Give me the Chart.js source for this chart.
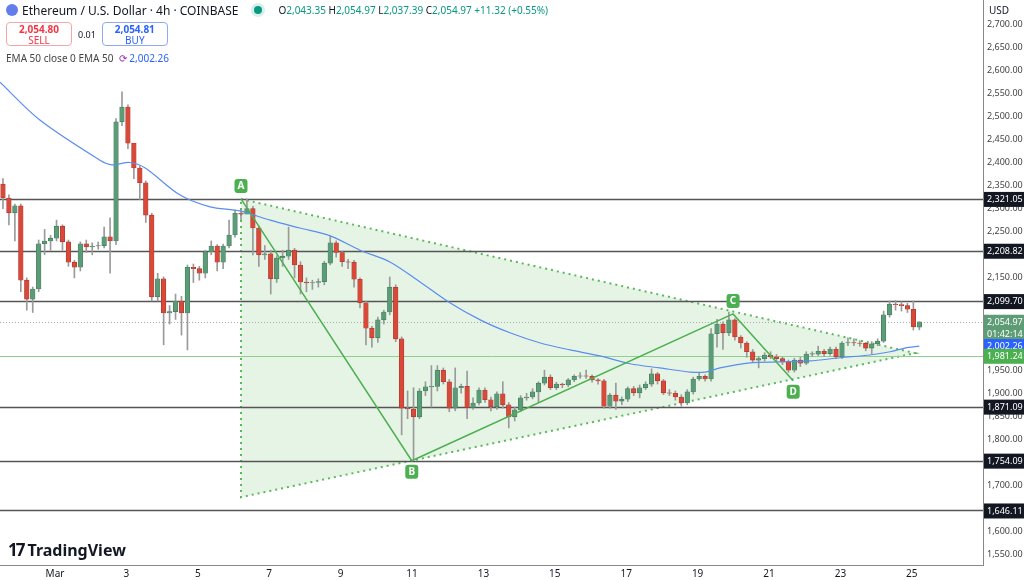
<!DOCTYPE html>
<html>
<head>
<meta charset="utf-8">
<script src="https://cdn.jsdelivr.net/npm/chart.js@4.4.1/dist/chart.umd.min.js"></script>
<style>
  body { margin: 0; background: #fff; font-family: "Noto Sans", Arial, sans-serif; }
  #wrap { position: relative; width: 1024px; height: 580px; }
  #head { position: absolute; left: 6px; top: 2px; font-size: 11px; color: #131722; z-index: 2; }
  .title { font-size: 12px; display: flex; align-items: center; gap: 4px; height: 16px; }
  .eth { width: 12px; height: 12px; border-radius: 50%; background: #627eea; display: inline-block; }
  .dot { width: 8px; height: 8px; border-radius: 50%; background: #089981; display: inline-block; margin: 0 12px 0 12px; box-shadow: 0 0 0 3px #d6efe9; }
  .ohlc { color: #089981; font-size: 10px; }
  .ohlc b { color: #131722; font-weight: normal; }
  .trade { display: flex; align-items: center; gap: 6px; margin-top: 4px; }
  .btn { width: 66px; height: 24px; border-radius: 4px; text-align: center; font-size: 10px; line-height: 11px; padding-top: 1px; box-sizing: border-box; background: #fff; }
  .sell { border: 1px solid #f7a5a8; color: #f23645; }
  .buy { border: 1px solid #90a8f5; color: #2962ff; }
  .ema { margin-top: 5px; font-size: 10px; color: #444; }
  .ema span { color: #2962ff; }
  #logo { position: absolute; left: 8px; top: 538px; font-weight: bold; font-size: 16px; color: #131722; display: flex; align-items: center; gap: 4px; }
  #usd { position: absolute; left: 989px; top: 3px; font-size: 10px; color: #131722; z-index: 2; }
  canvas { position: absolute; left: 0; top: 0; }
</style>
</head>
<body>
<div id="wrap">
  <canvas id="chart" width="1024" height="580"></canvas>
  <div id="head">
    <div class="title"><span class="eth"></span>Ethereum / U.S. Dollar · 4h · COINBASE<span class="dot"></span>
      <span class="ohlc"><b>O</b>2,043.35 <b>H</b>2,054.97 <b>L</b>2,037.39 <b>C</b>2,054.97 +11.32 (+0.55%)</span></div>
    <div class="trade">
      <div class="btn sell"><b>2,054.80</b><br>SELL</div>
      <span style="font-size:9px">0.01</span>
      <div class="btn buy"><b>2,054.81</b><br>BUY</div>
    </div>
    <div class="ema">EMA 50 close 0 EMA 50 &nbsp;<span style="color:#9c27b0">⟳</span> <span>2,002.26</span></div>
  </div>
  <div id="usd">USD</div>
  <div id="logo"><span style="font-size:17px;letter-spacing:-2px">17</span> TradingView</div>
</div>
<script>
// 4h candles, first one at index 0
const closes = [2323, 2291, 2306, 2145, 2104, 2126, 2224, 2230, 2236, 2262, 2228, 2184, 2173, 2224, 2217, 2219, 2220, 2239, 2230, 2488,
  2520, 2442, 2388, 2356, 2286, 2109, 2148, 2074, 2077, 2100, 2074, 2173, 2170, 2160, 2206, 2219, 2184, 2219, 2243, 2290,
  2288, 2300, 2258, 2200, 2202, 2148, 2193, 2197, 2210, 2178, 2141, 2139, 2140, 2142, 2182, 2226, 2205, 2185, 2184, 2147,
  2096, 2041, 2020, 2059, 2076, 2130, 2018, 1868, 1866, 1849, 1905, 1914, 1915, 1950, 1925, 1868, 1912, 1915, 1869, 1879,
  1907, 1886, 1871, 1899, 1875, 1849, 1864, 1890, 1892, 1903, 1922, 1935, 1912, 1920, 1918, 1929, 1937, 1938, 1937, 1929,
  1927, 1872, 1896, 1883, 1887, 1910, 1901, 1912, 1920, 1942, 1927, 1901, 1900, 1892, 1879, 1903, 1931, 1937, 1931, 2029,
  2050, 2031, 2059, 2022, 2009, 1990, 1972, 1975, 1983, 1979, 1975, 1968, 1950, 1972, 1965, 1985, 1985, 1991, 1986, 1996,
  1979, 2009, 2010, 2009, 2008, 1998, 2007, 2013, 2070, 2093, 2092, 2090, 2082, 2044, 2054.97];
const opens = [2353].concat(closes.slice(0, -1));
opens[opens.length - 1] = 2043.35;
const highs = [2365, 2330, 2310, 2310, 2150, 2130, 2232, 2255, 2242, 2275, 2265, 2232, 2188, 2228, 2232, 2226, 2228, 2260, 2280, 2495,
  2553, 2525, 2410, 2393, 2360, 2290, 2160, 2152, 2090, 2115, 2110, 2178, 2180, 2175, 2210, 2230, 2222, 2223, 2275, 2297,
  2297, 2321, 2305, 2262, 2220, 2210, 2198, 2210, 2260, 2214, 2185, 2150, 2145, 2148, 2186, 2240, 2230, 2208, 2190, 2188,
  2150, 2100, 2045, 2065, 2080, 2152, 2135, 2022, 1905, 1912, 1910, 1925, 1960, 1960, 1955, 1930, 1955, 1920, 1948, 1890,
  1912, 1912, 1892, 1903, 1925, 1880, 1870, 1895, 1900, 1910, 1925, 1950, 1940, 1924, 1922, 1932, 1940, 1945, 1950, 1940,
  1932, 1930, 1900, 1922, 1892, 1914, 1915, 1918, 1925, 1953, 1945, 1930, 1908, 1905, 1897, 1908, 1935, 1945, 1940, 2040,
  2060, 2055, 2076, 2062, 2025, 2012, 1995, 1980, 1988, 1990, 1984, 1978, 1972, 1976, 1978, 1990, 1990, 2002, 1995, 2000,
  2000, 2012, 2020, 2018, 2014, 2010, 2012, 2018, 2078, 2100, 2101, 2098, 2095, 2100, 2054.97];
const lows = [2300, 2265, 2230, 2120, 2080, 2075, 2120, 2200, 2210, 2230, 2210, 2175, 2150, 2165, 2205, 2200, 2212, 2215, 2160, 2222,
  2480, 2430, 2365, 2320, 2270, 2100, 2100, 2005, 2050, 2060, 2026, 1994, 2140, 2145, 2150, 2200, 2165, 2170, 2215, 2238,
  2275, 2290, 2200, 2175, 2190, 2115, 2140, 2175, 2190, 2150, 2115, 2120, 2125, 2130, 2135, 2178, 2195, 2175, 2170, 2130,
  2085, 2005, 2000, 2010, 2050, 2070, 2012, 1810, 1845, 1756, 1845, 1895, 1870, 1905, 1920, 1860, 1862, 1900, 1845, 1865,
  1875, 1880, 1862, 1865, 1868, 1825, 1840, 1860, 1885, 1888, 1880, 1918, 1908, 1908, 1912, 1914, 1925, 1932, 1932, 1924,
  1920, 1868, 1868, 1865, 1875, 1882, 1895, 1890, 1908, 1915, 1920, 1897, 1895, 1885, 1872, 1875, 1898, 1928, 1926, 1926,
  2000, 1995, 2025, 2015, 1998, 1978, 1968, 1955, 1970, 1975, 1970, 1962, 1945, 1946, 1958, 1962, 1980, 1982, 1980, 1982,
  1975, 1975, 2003, 2003, 2002, 1992, 1985, 2003, 2010, 2065, 2080, 2078, 2075, 2037, 2037.39];

// EMA 50 (candle index, value)
const emaIdx = [-0.5, 6.2, 16.3, 18.3, 21.3, 23.9, 29.7, 34.8, 39.8, 44.9, 49.9, 55, 60, 65.1, 70.1, 75.1, 80.2, 85.2, 90.3,
  95.3, 100.3, 105.4, 110.4, 115.5, 118, 120.5, 125.5, 130.6, 135.6, 140.7, 145.7, 149.1, 151.6, 154];
const emaVals = [2574, 2492, 2405, 2395, 2400, 2388, 2330, 2304, 2295, 2275, 2258, 2241, 2210, 2184, 2141, 2096, 2059, 2031,
  2009, 1994, 1981, 1964, 1955, 1946, 1946, 1955, 1966, 1968, 1970, 1977, 1983, 1990, 1998, 2002.26];

// A-B-C-D pattern and triangle
const patIdx = [40, 68.7, 122.7, 132.8];
const patVals = [2321, 1754, 2072, 1927];
const patLabels = ["A", "B", "C", "D"];
const triIdx = [40, 153.3, 40];
const triVals = [2321, 1987, 1675];

const levels = [2321.05, 2208.82, 2099.70, 1871.09, 1754.09, 1646.11];
const support = 1981.24;
const lastPrice = 2054.97;
const emaLast = 2002.26;
const dayLabels = ["Mar", "3", "5", "7", "9", "11", "13", "15", "17", "19", "21", "23", "25"];
const firstDayIdx = 8.74;

const UP = "#5c9b77", DOWN = "#d9493a";
const idx = closes.map((c, i) => i);
const up = closes.map((c, i) => c >= opens[i]);
const fmt = v => v.toLocaleString("en-US", { minimumFractionDigits: 2, maximumFractionDigits: 2 });

const overlay = {
  id: "overlay",
  beforeDatasetsDraw(chart) {
    const { ctx, chartArea: a, scales: { x, y } } = chart;
    ctx.save();
    // triangle
    ctx.beginPath();
    triIdx.forEach((t, i) => {
      const px = x.getPixelForValue(t), py = y.getPixelForValue(triVals[i]);
      i ? ctx.lineTo(px, py) : ctx.moveTo(px, py);
    });
    ctx.closePath();
    ctx.fillStyle = "rgba(76,175,80,0.14)";
    ctx.fill();
    ctx.setLineDash([2, 4]);
    ctx.lineWidth = 2;
    ctx.strokeStyle = "#5cb85c";
    ctx.stroke();
    ctx.setLineDash([]);
    // horizontal levels
    ctx.lineWidth = 1.5;
    ctx.strokeStyle = "#555";
    levels.forEach(l => {
      const py = Math.round(y.getPixelForValue(l)) + 0.5;
      ctx.beginPath(); ctx.moveTo(a.left, py); ctx.lineTo(a.right, py); ctx.stroke();
    });
    ctx.lineWidth = 1;
    ctx.strokeStyle = "#8fcf8f";
    let py = Math.round(y.getPixelForValue(support)) + 0.5;
    ctx.beginPath(); ctx.moveTo(a.left, py); ctx.lineTo(a.right, py); ctx.stroke();
    ctx.setLineDash([1, 2]);
    ctx.strokeStyle = "#aaa";
    py = Math.round(y.getPixelForValue(lastPrice)) + 0.5;
    ctx.beginPath(); ctx.moveTo(a.left, py); ctx.lineTo(a.right, py); ctx.stroke();
    ctx.restore();
  },
  afterDraw(chart) {
    const { ctx, chartArea: a, scales: { x, y } } = chart;
    ctx.save();
    // pattern labels
    ctx.font = "bold 10px 'Noto Sans'";
    ctx.textAlign = "center";
    ctx.textBaseline = "middle";
    patLabels.forEach((t, i) => {
      const px = x.getPixelForValue(patIdx[i]);
      let py = y.getPixelForValue(patVals[i]);
      py += (i % 2 === 0) ? -13 : 11;
      ctx.fillStyle = "#4caf50";
      ctx.beginPath(); ctx.roundRect(px - 6.5, py - 7, 13, 14, 3); ctx.fill();
      ctx.fillStyle = "#fff";
      ctx.fillText(t, px, py + 0.5);
    });
    // price badges on the axis
    const badge = (v, bg, lines) => {
      const cy = y.getPixelForValue(v);
      const h = lines.length * 12 + 3;
      ctx.fillStyle = bg;
      ctx.fillRect(a.right + 1, cy - 7, 41, h);
      ctx.fillStyle = "#fff";
      ctx.textAlign = "left";
      ctx.font = "9px 'Noto Sans'";
      lines.forEach((s, i) => ctx.fillText(s, a.right + 4, cy + i * 12 + 0.5));
    };
    levels.forEach(l => badge(l, "#131722", [fmt(l)]));
    badge(lastPrice, "#5e9c76", [fmt(lastPrice), "01:42:14"]);
    badge(emaLast, "#2962ff", [fmt(emaLast)]);
    badge(support, "#4caf50", [fmt(support)]);
    ctx.restore();
  }
};

new Chart(document.getElementById("chart"), {
  data: {
    datasets: [
      {
        type: "bar",
        data: idx.map(i => ({ x: i, y: [lows[i], highs[i]] })),
        backgroundColor: "#9a9a9a",
        barThickness: 1,
        grouped: false,
        order: 3
      },
      {
        type: "bar",
        data: idx.map(i => ({ x: i, y: [opens[i], closes[i] === opens[i] ? closes[i] + 1 : closes[i]] })),
        backgroundColor: up.map(u => u ? UP : DOWN),
        borderColor: up.map(u => u ? "#3f7a58" : "#a8332a"),
        borderWidth: 0.6,
        borderSkipped: false,
        barThickness: 4.6,
        grouped: false,
        order: 2
      },
      {
        type: "line",
        data: emaIdx.map((t, i) => ({ x: t, y: emaVals[i] })),
        borderColor: "#5b8def",
        borderWidth: 1.2,
        pointRadius: 0,
        tension: 0.3,
        order: 1
      },
      {
        type: "line",
        data: patIdx.map((t, i) => ({ x: t, y: patVals[i] })),
        borderColor: "#4caf50",
        borderWidth: 1.5,
        pointRadius: 0,
        order: 0
      }
    ]
  },
  options: {
    responsive: false,
    animation: false,
    layout: { padding: 0 },
    plugins: { legend: { display: false }, tooltip: { enabled: false } },
    scales: {
      x: {
        type: "linear",
        offset: false,
        min: -0.5,
        max: 164.7,
        grid: { display: false, drawTicks: false },
        border: { color: "#888" },
        afterBuildTicks: s => { s.ticks = dayLabels.map((d, i) => ({ value: firstDayIdx + i * 12 })); },
        afterFit: s => { s.height = 15; s.paddingLeft = 0; s.paddingRight = 0; },
        ticks: {
          color: "#131722",
          font: { size: 10, family: "Noto Sans" },
          padding: 3,
          maxRotation: 0,
          autoSkip: false,
          callback: (v, i) => dayLabels[i]
        }
      },
      y: {
        position: "right",
        min: 1528,
        max: 2752,
        grid: { display: false, drawTicks: false },
        border: { color: "#888" },
        afterBuildTicks: s => {
          const t = [];
          for (let v = 1550; v <= 2700; v += 50) t.push({ value: v });
          s.ticks = t;
        },
        afterFit: s => { s.width = 41; s.paddingTop = 0; s.paddingBottom = 0; },
        ticks: {
          color: "#444",
          font: { size: 9, family: "Noto Sans" },
          padding: 4,
          callback: v => fmt(v)
        }
      }
    }
  },
  plugins: [overlay]
});
</script>
</body>
</html>
